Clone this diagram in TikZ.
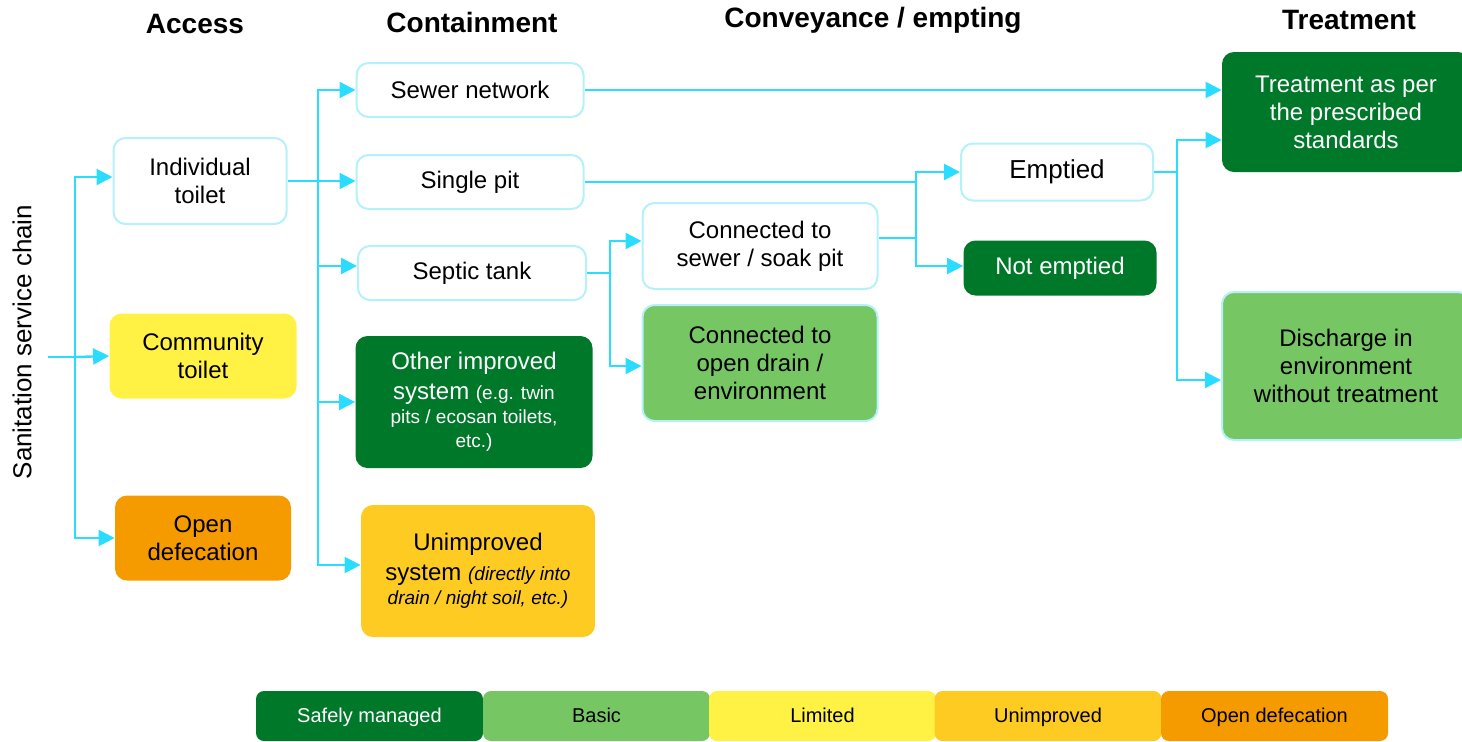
\documentclass[tikz,border=0pt]{standalone}
\usepackage{fontspec}
\setmainfont{Liberation Sans}
\usetikzlibrary{arrows.meta}

\definecolor{safegreen}{HTML}{00782A}
\definecolor{basicgreen}{HTML}{77C664}
\definecolor{limyellow}{HTML}{FFF244}
\definecolor{unimpgold}{HTML}{FDCB22}
\definecolor{odorange}{HTML}{F59B00}
\definecolor{flowcyan}{HTML}{2ADCFF}
\definecolor{rimcyan}{HTML}{B5F1FB}

\tikzset{
  stage/.style={rounded corners=6pt, align=center, inner sep=0pt,
    font=\fontsize{12}{14}\selectfont},
  plain/.style={stage, draw=rimcyan, line width=1pt, fill=white},
  safe/.style={stage, fill=safegreen, text=white},
  basic/.style={stage, fill=basicgreen, draw=rimcyan, line width=1pt},
  limited/.style={stage, fill=limyellow},
  unimp/.style={stage, fill=unimpgold},
  opendef/.style={stage, fill=odorange},
  head/.style={font=\bfseries\fontsize{14}{16}\selectfont},
  legend/.style={rounded corners=4pt, inner sep=0pt, minimum width=113.5pt,
    minimum height=25pt, text height=1.6ex, text depth=0.3ex,
    font=\fontsize{10}{12}\selectfont},
  flow/.style={draw=flowcyan, line width=1.2pt, -{Triangle[length=8pt,width=8pt]}},
  link/.style={draw=flowcyan, line width=1.2pt},
}
\newcommand{\smalltxt}{\fontsize{9.5}{12}\selectfont}

\begin{document}
\begin{tikzpicture}[x=0.5pt, y=-0.5pt]
  \clip (0,0) rectangle (1462,741);

  \node[head] at (195,24) (hAccess) {Access};
  \node[head] at (472,22) (hContain) {Containment};
  \node[head] at (873,20) (hConvey) {Conveyance / empting};
  \node[head] at (1349,20) (hTreat) {Treatment};

  \node[rotate=90, font=\fontsize{13}{15}\selectfont] at (22,342) (chain) {Sanitation service chain};

  \node[plain, minimum width=86.5pt, minimum height=43pt] at (200,181) (ind) {Individual\\toilet};
  \node[limited, minimum width=93.5pt, minimum height=42.5pt] at (203,356) (com) {Community\\toilet};
  \node[opendef, minimum width=88pt, minimum height=42.5pt] at (203,538) (od) {Open\\defecation};

  \node[plain, minimum width=113.5pt, minimum height=27pt] at (470,90) (sew) {Sewer network};
  \node[plain, minimum width=113.5pt, minimum height=27pt] at (470,182) (sp) {Single pit};
  \node[plain, minimum width=114pt, minimum height=27pt] at (472,273) (sep) {Septic tank};
  \node[safe, minimum width=118.5pt, minimum height=66pt] at (474,402) (oth)
    {Other improved\\[1pt]system {\smalltxt(e.g. twin}\\[-2pt]{\smalltxt pits / ecosan toilets,}\\[-2pt]{\smalltxt etc.)}};
  \node[unimp, minimum width=117pt, minimum height=66pt] at (478,571) (unim)
    {Unimproved\\[1pt]system {\smalltxt\itshape(directly into}\\[-2pt]{\smalltxt\itshape drain / night soil, etc.)}};

  \node[plain, minimum width=117.5pt, minimum height=43pt] at (760,246) (cs) {Connected to\\sewer / soak pit};
  \node[basic, minimum width=117.5pt, minimum height=58pt] at (760,363) (cd) {Connected to\\open drain /\\environment};

  \node[plain, minimum width=96pt, minimum height=28.5pt, font=\fontsize{13}{15}\selectfont] at (1057,172) (emp) {Emptied};
  \node[safe, minimum width=96.5pt, minimum height=27.5pt] at (1060,268) (nemp) {Not emptied};

  \node[safe, minimum width=124pt, minimum height=60pt] at (1346,112) (trt) {Treatment as per\\the prescribed\\standards};
  \node[basic, minimum width=124pt, minimum height=74pt] at (1346,366) (dis) {Discharge in\\environment\\without treatment};

  \coordinate (src) at (48,357);
  \coordinate (j1) at (75,357);
  \coordinate (j2) at (318,181);
  \coordinate (j4) at (916,182);
  \coordinate (j5) at (610,273);
  \coordinate (j6) at (1177,172);

  \draw[link] (src) -- (j1);
  \draw[flow] (j1) |- ([yshift=2pt]ind.west);
  \draw[flow] (j1) -- (com.west);
  \draw[flow] (j1) |- (od.west);

  \draw[flow] (ind.east) -- (ind.east -| sp.west);
  \draw[flow] (j2) |- (sew.west);
  \draw[flow] (j2) |- ([yshift=3.5pt]sep.west);
  \draw[flow] (j2) |- (oth.west);
  \draw[flow] (j2) |- ([yshift=3pt]unim.west);

  \draw[flow] (sew.east) -- (sew.east -| trt.west);

  \draw[link] (sp.east) -- (j4);
  \draw[flow] (j4) |- (emp.west);
  \draw[link] ([yshift=4pt]cs.east) -- ([yshift=4pt]cs.east -| j4);
  \draw[flow] (j4) |- ([yshift=1pt]nemp.west);

  \draw[link] (sep.east) -- (j5);
  \draw[flow] (j5) |- ([yshift=2.5pt]cs.west);
  \draw[flow] (j5) |- ([yshift=-1.5pt]cd.west);

  \draw[link] (emp.east) -- (j6);
  \draw[flow] (j6) |- ([yshift=-14pt]trt.west);
  \draw[flow] (j6) |- ([yshift=-7pt]dis.west);

  \node[legend, fill=safegreen, text=white] at (369.5,716) (legSafe) {Safely managed};
  \node[legend, fill=basicgreen] at (596.5,716) (legBasic) {Basic};
  \node[legend, fill=limyellow] at (822.5,716) (legLim) {Limited};
  \node[legend, fill=unimpgold] at (1048,716) (legUnimp) {Unimproved};
  \node[legend, fill=odorange] at (1274.5,716) (legOd) {Open defecation};
\end{tikzpicture}
\end{document}
